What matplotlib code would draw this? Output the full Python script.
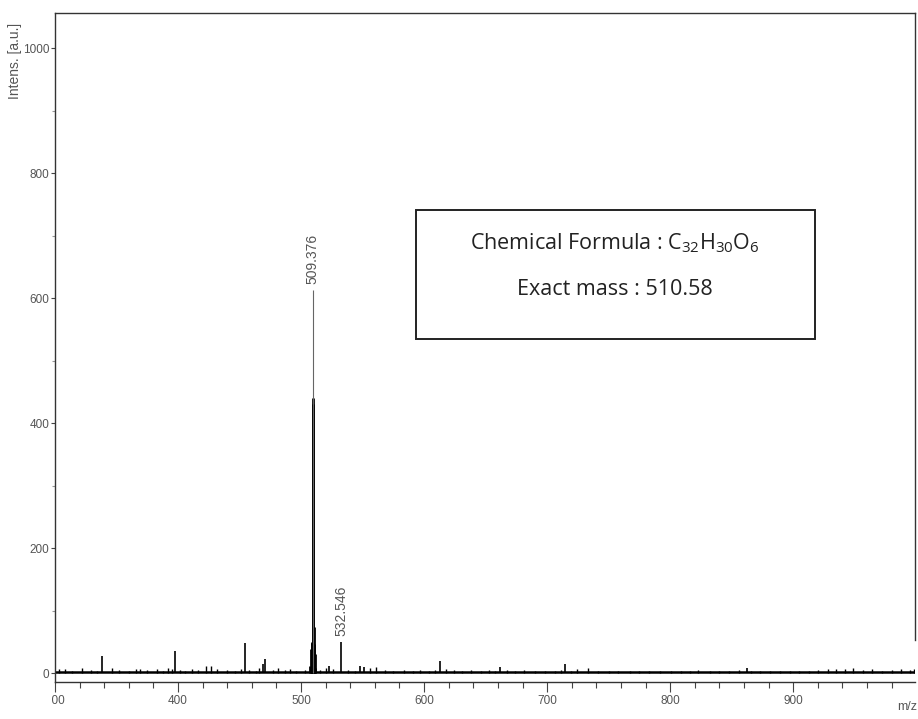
import matplotlib.pyplot as plt
from matplotlib.patches import Rectangle
from matplotlib.transforms import Bbox, TransformedBbox

plt.rcParams['mathtext.fontset'] = 'custom'
plt.rcParams['mathtext.rm'] = 'Open Sans'
plt.rcParams['mathtext.it'] = 'Open Sans'
plt.rcParams['mathtext.bf'] = 'Open Sans'

# resolved peaks (m/z, intensity a.u.)
peak_mz = [338.2, 397.5, 454.5, 469.2, 471.0, 522.3, 532.546, 548.0, 551.2, 613.0, 662.0, 714.6, 862.6]
peak_int = [28, 36, 48, 14, 22, 11, 50, 12, 10, 20, 10, 14, 9]

# profile of the molecular ion cluster
main_mz = [507.6, 508.2, 508.6, 509.0, 509.4, 509.8, 510.2, 510.6, 511.0, 511.6]
main_int = [12, 38, 48, 50, 440, 430, 74, 46, 30, 8]
apex_mz = 509.376
apex_int = 613

# labelled peaks
label_mz = [509.376, 532.546]
label_int = [613, 50]
label_txt = ['509.376', '532.546']

# baseline noise
noise_mz = [303, 308, 314, 322, 329, 334, 346, 352, 360, 366,
            369, 375, 383, 388, 392, 395, 402, 406, 411, 416,
            423, 427, 432, 440, 446, 451, 458, 463, 466, 477,
            481, 487, 491, 496, 503, 515, 520, 526, 538, 544,
            556, 561, 568, 575, 584, 591, 597, 604, 609, 618,
            624, 631, 638, 646, 653, 658, 667, 674, 681, 690,
            698, 706, 711, 719, 724, 733, 741, 750, 758, 767,
            775, 783, 792, 801, 809, 816, 823, 832, 840, 848,
            856, 866, 873, 881, 889, 897, 905, 913, 920, 928,
            935, 942, 949, 957, 964, 972, 980, 988, 995, 998]
noise_int = [6, 7, 4, 8, 5, 4, 8, 5, 4, 6,
             7, 5, 6, 4, 9, 6, 5, 4, 7, 5,
             12, 11, 6, 5, 4, 6, 5, 4, 9, 5,
             8, 5, 6, 4, 5, 5, 9, 6, 5, 4,
             8, 10, 5, 4, 5, 4, 5, 4, 5, 6,
             5, 4, 5, 4, 5, 4, 5, 4, 5, 4,
             4, 4, 5, 4, 7, 8, 4, 3, 4, 4,
             4, 3, 4, 4, 3, 4, 5, 4, 4, 3,
             5, 4, 4, 3, 4, 4, 3, 4, 5, 6,
             7, 6, 8, 5, 6, 4, 5, 6, 5, 6]
baseline_mz = [300, 999]
baseline_int = [2.5, 2.5]

x_major = [300, 400, 500, 600, 700, 800, 900]
y_major = [0, 200, 400, 600, 800, 1000]

narrow = ['Liberation Sans Narrow', 'Liberation Sans']

fig = plt.figure(figsize=(9.18, 7.19), dpi=100)
ax = fig.add_axes([55 / 918, 37 / 719, 860 / 918, 669 / 719])

ink = 'black'
ax.plot(baseline_mz, baseline_int, color=ink, lw=1.8)
ax.vlines(noise_mz, 0, noise_int, color=ink, lw=1.0)
ax.vlines(peak_mz, 0, peak_int, color=ink, lw=1.2)
ax.vlines(main_mz, 0, main_int, color=ink, lw=2.0)
ax.vlines(apex_mz, 0, apex_int, color='#666666', lw=0.8)

for mz, h, txt in zip(label_mz, label_int, label_txt):
    ax.annotate(txt, (mz, h), xytext=(0, 4), textcoords='offset points',
                rotation=90, ha='center', va='bottom', fontsize=10,
                color='#555555', family=narrow)

ax.set_xlim(300, 999)
ax.set_ylim(-14, 1056)
ax.set_xticks(x_major)
ax.set_xticks(range(300, 1000, 20), minor=True)
ax.set_yticks(y_major)
ax.set_yticks(range(0, 1001, 100), minor=True)
ax.tick_params(axis='x', which='major', length=7, width=0.8, color='#444444', pad=2)
ax.tick_params(axis='x', which='minor', length=4.5, width=0.8, color='#444444')
ax.tick_params(axis='y', which='major', length=3, width=0.8, color='#444444', pad=1)
ax.tick_params(axis='y', which='minor', length=2, width=0.8, color='#999999')
for lab in ax.get_xticklabels() + ax.get_yticklabels():
    lab.set_fontsize(8.5)
    lab.set_color('#555555')
    lab.set_family(narrow)

for side in ['left', 'right', 'top', 'bottom']:
    ax.spines[side].set_color('#333333')
    ax.spines[side].set_linewidth(1.0)
ax.spines['right'].set_bounds(53, 1056)

# first x label sits partly under the axis corner
fig.canvas.draw()
first = ax.get_xticklabels()[0]
first.set_clip_on(True)
first.set_clip_box(TransformedBbox(Bbox([[-0.0035, -0.2], [1.2, 0.0]]), ax.transAxes))

fig.text(15 / 918, 1 - 61 / 719, 'Intens. [a.u.]', rotation=90, ha='center', va='center',
         fontsize=10, color='#555555', family=narrow)
fig.text(0.999, 0.008, 'm/z', ha='right', va='bottom', fontsize=9, color='#555555',
         family=narrow)

# formula box
fig.patches.append(Rectangle((416 / 918, 1 - 339 / 719), 399 / 918, 129 / 719,
                             transform=fig.transFigure, fill=False,
                             edgecolor='#222222', lw=1.4))
fig.text(615 / 918, 1 - 243 / 719, r'Chemical Formula : C$_{32}$H$_{30}$O$_{6}$',
         ha='center', va='center', fontsize=15.5, family='Open Sans', color='#222222')
fig.text(615 / 918, 1 - 289 / 719, 'Exact mass : 510.58',
         ha='center', va='center', fontsize=15.5, family='Open Sans', color='#222222')

fig.savefig('out.png', dpi=100)
